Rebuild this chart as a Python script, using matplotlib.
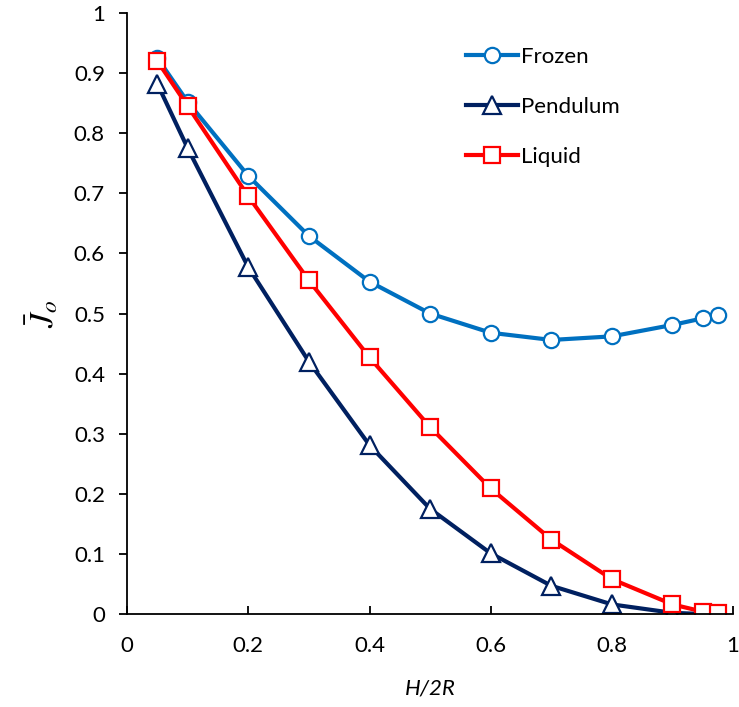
import matplotlib
matplotlib.use("Agg")
import matplotlib.pyplot as plt

plt.rcParams['font.family'] = ['Lato', 'DejaVu Sans']
plt.rcParams['mathtext.fontset'] = 'stix'

h2r = [0.05, 0.1, 0.2, 0.3, 0.4, 0.5, 0.6, 0.7, 0.8, 0.9, 0.95, 0.975]
frozen = [0.925, 0.852, 0.729, 0.629, 0.553, 0.500, 0.468, 0.456, 0.462, 0.481, 0.492, 0.498]
pendulum = [0.882, 0.775, 0.577, 0.420, 0.281, 0.175, 0.101, 0.047, 0.016, 0.002, 0.0, 0.0]
liquid = [0.920, 0.845, 0.695, 0.555, 0.427, 0.311, 0.209, 0.124, 0.058, 0.016, 0.004, 0.001]

fig = plt.figure(figsize=(7.39, 7.07), dpi=100)
ax = fig.add_axes([0.172, 0.1315, 0.8200, 0.8501])

ax.plot(h2r, frozen, color='#0070C0', lw=3, marker='o', ms=11,
        mfc='white', mec='#0070C0', mew=1.6, label='Frozen')
ax.plot(h2r, pendulum, color='#002060', lw=3, marker='^', ms=13,
        mfc='white', mec='#002060', mew=1.6, label='Pendulum')
ax.plot(h2r, liquid, color='#FF0000', lw=3, marker='s', ms=11,
        mfc='white', mec='#FF0000', mew=1.6, label='Liquid')

ax.set_xlim(0, 1)
ax.set_ylim(0, 1)
ax.set_xticks([0, 0.2, 0.4, 0.6, 0.8, 1])
ax.set_xticklabels(['0', '0.2', '0.4', '0.6', '0.8', '1'])
ax.set_yticks([i / 10 for i in range(11)])
ax.set_yticklabels(['0'] + ['0.%d' % i for i in range(1, 10)] + ['1'])
ax.spines['top'].set_visible(False)
ax.spines['right'].set_visible(False)
ax.spines['left'].set_linewidth(1.3)
ax.spines['bottom'].set_linewidth(1.3)
ax.tick_params(axis='x', direction='in', length=6, width=1.3, labelsize=16, pad=16)
ax.tick_params(axis='y', direction='out', length=6, width=1.3, labelsize=16, pad=10)

ax.set_xlabel('H/2R', fontsize=16, style='italic', labelpad=16)
ax.set_ylabel(r'$\bar{J}_o$', fontsize=24, labelpad=10)

leg = ax.legend(loc='upper left', bbox_to_anchor=(0.527, 0.977), frameon=False,
                fontsize=16, handlelength=2.3, labelspacing=1.35, handletextpad=0.15)

fig.savefig('out.png', dpi=100)
